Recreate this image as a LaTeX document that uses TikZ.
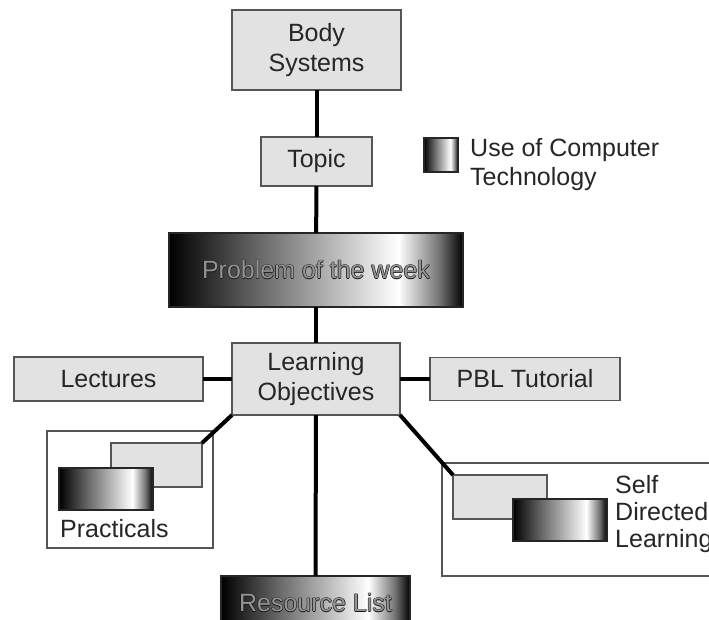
\documentclass[tikz,border=0pt]{standalone}
\usepackage{fontspec}
\setmainfont{Liberation Sans}
\definecolor{boxgrey}{RGB}{226,226,226}
\definecolor{edgegrey}{RGB}{85,85,85}
\pgfdeclarehorizontalshading{techshade}{100bp}{color(0bp)=(black); color(25bp)=(black); color(40bp)=(black!60); color(64bp)=(white); color(71bp)=(black!55); color(75bp)=(black); color(100bp)=(black)}
% grey text with a thin dark rim, as on the shaded boxes
\newcommand{\rimtext}[1]{\leavevmode
  \rlap{\color{black!90}\hspace{-0.6pt}#1}\rlap{\color{black!90}\hspace{0.6pt}#1}%
  \rlap{\color{black!90}\raisebox{0.6pt}{#1}}\rlap{\color{black!90}\raisebox{-0.6pt}{#1}}%
  {\color{black!42}#1}}

\begin{document}
\begin{tikzpicture}[x=1pt, y=-1pt,
  box/.style={rectangle, draw=edgegrey, line width=1.5pt, fill=boxgrey, inner sep=0pt, outer sep=0pt, align=center, font=\fontsize{25}{30}\selectfont, text=black!85},
  techbox/.style={rectangle, draw=black!85, line width=1.5pt, shading=techshade, inner sep=0pt, outer sep=0pt, font=\fontsize{25}{30}\selectfont},
  groupbox/.style={rectangle, draw=edgegrey, line width=1.2pt, fill=white, inner sep=0pt, outer sep=0pt},
  label/.style={align=left, inner sep=0pt, text=black!85},
  link/.style={line width=4pt, black}
]
\useasboundingbox (0,0) rectangle (709,619);
\clip (0,0) rectangle (709,619);

% main column
\node[box, minimum width=169pt, minimum height=80pt] (body) at (316.5,50) {Body\\Systems};
\node[box, minimum width=111pt, minimum height=49pt] (topic) at (316.5,161.5) {Topic};
\node[techbox, minimum width=294pt, minimum height=74pt] (problem) at (316,270) {\rimtext{Problem of the week}};
\node[box, minimum width=168pt, minimum height=72pt] (objectives) at (316,379) {Learning\\Objectives};
\node[box, minimum width=189pt, minimum height=44pt] (lectures) at (108.5,379) {Lectures};
\node[box, minimum width=190pt, minimum height=43pt] (tutorial) at (525,379) {PBL Tutorial};
\node[techbox, minimum width=189pt, minimum height=54pt] (resource) at (315.5,603) {\rimtext{Resource List}};

% legend
\node[techbox, minimum width=34pt, minimum height=34pt] (legendkey) at (441,155) {};
\node[label, anchor=west, font=\fontsize{25}{29}\selectfont] (legendtext) at (470,165) {Use of Computer\\Technology};

% practicals group
\node[groupbox, minimum width=166pt, minimum height=117pt] (pracgroup) at (130,489.5) {};
\node[box, minimum width=91pt, minimum height=44pt] (pracbox) at (156.5,465) {};
\node[techbox, minimum width=94pt, minimum height=42pt] (practech) at (106,489) {};
\node[label, anchor=west, font=\fontsize{25}{28}\selectfont] (practext) at (60,529) {Practicals};

% self directed learning group
\node[groupbox, minimum width=290pt, minimum height=113pt] (selfgroup) at (587,519.5) {};
\node[box, minimum width=94pt, minimum height=44pt] (selfbox) at (500,497) {};
\node[techbox, minimum width=94pt, minimum height=42pt] (selftech) at (560,520) {};
\node[label, anchor=north west, font=\fontsize{25}{27}\selectfont] (selftext) at (615,475) {Self\\Directed\\Learning};

% connectors
\draw[link] (body) -- (topic);
\draw[link] (topic) -- (problem);
\draw[link] (problem) -- (objectives);
\draw[link] (objectives) -- (lectures);
\draw[link] (objectives) -- (tutorial);
\draw[link] (objectives) -- (resource);
\draw[link] (objectives.south west) -- (pracbox.north east);
\draw[link] (objectives.south east) -- (selfbox.north west);
\end{tikzpicture}
\end{document}
